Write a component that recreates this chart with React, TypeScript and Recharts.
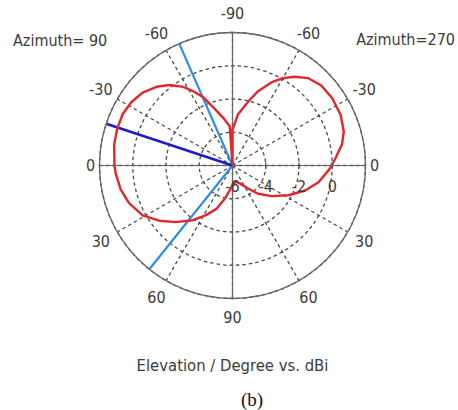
import React from 'react';
import { RadarChart, PolarGrid, PolarAngleAxis, PolarRadiusAxis, Radar } from 'recharts';

// angle = degrees clockwise from the top of the plot, gain in dBi
const patternAngles = [
  0, 6, 14, 19, 25, 30, 35, 41, 48, 56, 65, 73, 79, 86, 92, 101, 109, 118, 128, 138, 146, 158, 167,
  178, 184, 193, 200, 208, 216, 225, 233, 241, 250, 258, 266, 270, 280, 288, 295, 302, 309, 316, 322,
  328, 332, 337, 342, 349, 356,
];
const patternGain = [
  -3.85, -2.92, -2.02, -1.27, -0.49, 0.07, 0.52, 0.96, 1.19, 1.24, 1.18, 1.0, 0.71, 0.21, -0.15, -0.73,
  -1.38, -2.19, -3.01, -3.71, -4.33, -4.84, -4.99, -4.92, -4.62, -3.96, -3.24, -2.62, -1.93, -1.18,
  -0.48, 0.18, 0.62, 0.88, 1.04, 1.1, 1.23, 1.28, 1.29, 1.18, 0.96, 0.58, 0.14, -0.42, -0.93, -1.56,
  -2.35, -3.08, -3.64,
];

// beam direction markers (centre to rim)
const darkBeamAngles = [288.3, 288.3];
const darkBeamGain = [-6, 2];
const lightBeamAngles = [336.4, 336.4, 218.7, 218.7];
const lightBeamGain = [-6, 2, -6, 2];

const angleTicks = [0, 30, 60, 90, 120, 150, 180, 210, 240, 270, 300, 330];
const gainDomain = [-6, 2];

const CX = 232.5;
const CY = 165.5;
const FONT = "'DejaVu Sans Condensed', 'DejaVu Sans', sans-serif";
const TEXT = '#3b3b3b';

const chartData = [
  ...patternAngles.map((a, i) => ({ angle: a, pattern: patternGain[i] })),
  ...darkBeamAngles.map((a, i) => ({ angle: a, dark: darkBeamGain[i] })),
  ...lightBeamAngles.map((a, i) => ({ angle: a, light: lightBeamGain[i] })),
];

// elevation label: -90 at top, 0 at the sides, 90 at the bottom
const elevationLabel = (v: number) => (v <= 180 ? v - 90 : 270 - v);

const AngleTick = (props: any) => {
  const { x, y, payload } = props;
  const dx = x - CX;
  const dy = y - CY;
  const len = Math.hypot(dx, dy) || 1;
  const dist = Math.abs(dy) < 2 ? 142 : 152;
  return (
    <text
      x={CX + (dx / len) * dist}
      y={CY + (dy / len) * dist}
      textAnchor="middle"
      dominantBaseline="central"
      fontFamily={FONT}
      fontSize={16}
      fill={TEXT}
    >
      {elevationLabel(payload.value)}
    </text>
  );
};

const RadiusTick = (props: any) => {
  const { x, y, payload } = props;
  if (payload.value === 2) return <g />;
  return (
    <g>
      {payload.value !== -6 && <line x1={x} x2={x} y1={y - 3} y2={y + 3} stroke="#555" strokeWidth={1.2} />}
      <text
        x={x}
        y={y + 21}
        textAnchor="middle"
        dominantBaseline="central"
        fontFamily={FONT}
        fontSize={16}
        fill={TEXT}
      >
        {payload.value}
      </text>
    </g>
  );
};

export default function App() {
  return (
    <div style={{ position: 'absolute', left: 0, top: 0, width: 458, height: 410, background: '#fff' }}>
      <RadarChart
        width={458}
        height={410}
        data={chartData}
        cx={CX}
        cy={CY}
        innerRadius={0}
        outerRadius={133}
        margin={{ top: 0, right: 0, bottom: 0, left: 0 }}
      >
        <PolarGrid gridType="circle" stroke="#4a4a4a" strokeWidth={1.3} strokeDasharray="3.5 3" />
        <PolarGrid
          gridType="circle"
          polarAngles={[0, 90, 180, 270]}
          polarRadius={[]}
          stroke="#666"
          strokeWidth={1.2}
        />
        <PolarAngleAxis
          dataKey="angle"
          type="number"
          domain={[0, 360]}
          ticks={angleTicks}
          tick={<AngleTick />}
          tickLine={false}
          tickSize={17}
          axisLineType="circle"
          axisLine={{ stroke: '#666', strokeWidth: 1.3 }}
        />
        <PolarRadiusAxis
          angle={0}
          type="number"
          domain={gainDomain}
          tickCount={5}
          tick={<RadiusTick />}
          axisLine={{ stroke: '#666', strokeWidth: 1.2 }}
        />
        <Radar dataKey="light" stroke="#2f8fe6" strokeWidth={2.2} fill="none" connectNulls isAnimationActive={false} />
        <Radar dataKey="dark" stroke="#1c1cc8" strokeWidth={2.6} fill="none" connectNulls isAnimationActive={false} />
        <Radar dataKey="pattern" stroke="#e3262c" strokeWidth={2.4} strokeLinejoin="round" fill="none" connectNulls isAnimationActive={false} />
      </RadarChart>
      <svg width={458} height={410} style={{ position: 'absolute', left: 0, top: 0, pointerEvents: 'none' }}>
        <text x={13} y={40} dominantBaseline="central" fontFamily={FONT} fontSize={16} fill={TEXT}>
          Azimuth= 90
        </text>
        <text x={455} y={39} textAnchor="end" dominantBaseline="central" fontFamily={FONT} fontSize={16} fill={TEXT}>
          Azimuth=270
        </text>
        <text x={232.5} y={365} textAnchor="middle" dominantBaseline="central" fontFamily={FONT} fontSize={16.5} fill={TEXT}>
          Elevation / Degree vs. dBi
        </text>
        <text x={252} y={399} textAnchor="middle" dominantBaseline="central" fontFamily="'Liberation Serif', 'Times New Roman', serif" fontSize={19} fill="#111">
          (b)
        </text>
      </svg>
    </div>
  );
}
